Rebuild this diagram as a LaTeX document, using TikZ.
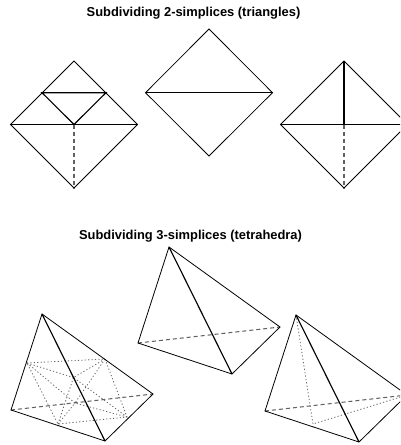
\documentclass[tikz,border=0pt]{standalone}
\usepackage{fontspec}
\setmainfont{Liberation Sans}
\tikzset{
  px/.style={x=1pt,y=-1pt},
  edge/.style={draw=black,line width=0.8pt,line join=miter},
  heavy/.style={draw=black,line width=1.15pt},
  hid/.style={draw=black!62,line width=1.05pt,dash pattern=on 4pt off 3pt},
  dots/.style={draw=black!60,line width=0.8pt,dash pattern=on 1.2pt off 2.2pt},
  ttl/.style={font=\bfseries\fontsize{12.9}{14}\selectfont,inner sep=0pt,anchor=center}
}
\newcommand{\tetra}[3]{%
  \begin{scope}[shift={(#1,#2)}]
    \coordinate (#3a) at (0,0);
    \coordinate (#3l) at (-31,96);
    \coordinate (#3b) at (63,127);
    \coordinate (#3r) at (111,80);
    \draw[hid] (#3l) -- (#3r);
    \draw[edge] (#3a) -- (#3l) -- (#3b) -- (#3r) -- cycle;
    \draw[heavy] (#3a) -- (#3b);
  \end{scope}}
\begin{document}
\begin{tikzpicture}[px]
\useasboundingbox (0,0) rectangle (400,445);
\clip (0,0) rectangle (400,445);
\node[ttl] (t1) at (193.5,13.5) {Subdividing 2-simplices (triangles)};
\node[ttl] (t2) at (190.5,236) {Subdividing 3-simplices (tetrahedra)};
% diamond 1
\coordinate (al) at (10.5,124.5); \coordinate (ar) at (137.5,124.5);
\coordinate (at) at (74,61); \coordinate (ab) at (74,188); \coordinate (am) at (74,124.5);
\coordinate (ap) at (42,92.7); \coordinate (aq) at (106,92.7);
\draw[edge] (al) -- (at) -- (ar) -- (ab) -- cycle;
\draw[heavy] (al) -- (ar);
\draw[heavy] (ap) -- (aq) -- (am) -- cycle;
\draw[hid] (am) -- (ab);
% diamond 2
\coordinate (bl) at (145.5,92.7); \coordinate (br) at (272.5,92.7);
\coordinate (bt) at (209,29); \coordinate (bb) at (209,156);
\draw[edge] (bl) -- (bt) -- (br) -- (bb) -- cycle;
\draw[heavy] (bl) -- (br);
% diamond 3
\coordinate (cl) at (280.5,124.5); \coordinate (cr) at (407.5,124.5);
\coordinate (ct) at (344,61); \coordinate (cb) at (344,188); \coordinate (cm) at (344,124.5);
\draw[edge] (cl) -- (ct) -- (cr) -- (cb) -- cycle;
\draw[heavy] (cl) -- (cr);
\draw[heavy] (ct) -- (cm);
\draw[hid] (cm) -- (cb);
% tetra 1 interior
\coordinate (d1) at (27,363); \coordinate (d2) at (105,359);
\coordinate (d3) at (58,424); \coordinate (d4) at (127,417);
\coordinate (dm) at (73.5,377.5); \coordinate (dn) at (75,403);
\draw[dots] (d1) -- (d2) -- (d4) -- (d3) -- (d1);
\draw[dots] (d1) -- (dm) (d2) -- (dm) (d3) -- (dm) (d4) -- (dm);
\draw[dots] (d1) -- (dn) (d2) -- (dn) (d3) -- (dn) (d4) -- (dn);
\tetra{42}{314}{p}
\tetra{169}{247}{q}
% tetra 3 interior
\coordinate (sa) at (296,315); \coordinate (sr) at (407,395);
\coordinate (sx) at (313,424);
\draw[dots] (sa) -- (sx) -- (sr);
\tetra{296}{315}{s}
\end{tikzpicture}
\end{document}
